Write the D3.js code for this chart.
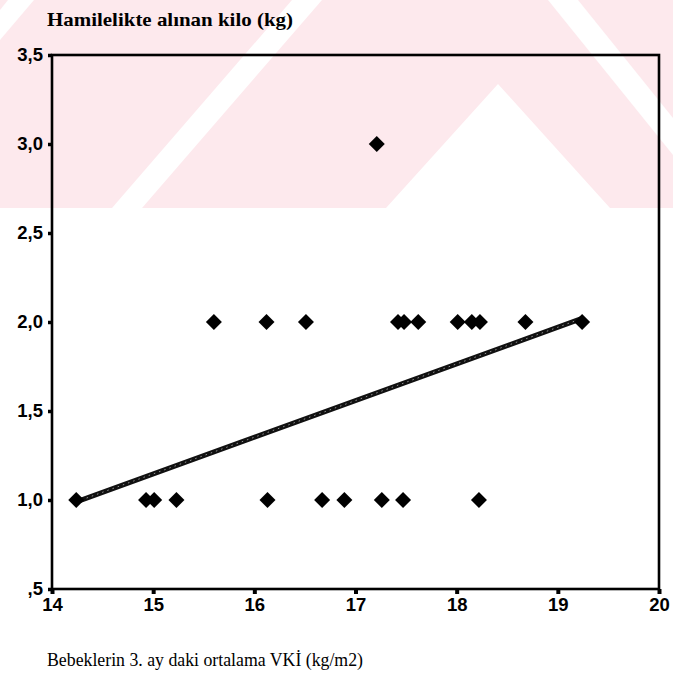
<!DOCTYPE html>
<html>
<head>
<meta charset="utf-8">
<script src="https://cdn.jsdelivr.net/npm/d3@7"></script>
<style>
  html, body { margin: 0; padding: 0; background: #fff; }
  svg { display: block; }
</style>
</head>
<body>
<div id="chart"></div>
<script>
// ---- data ----
const yTitle = "Hamilelikte alınan kilo (kg)";
const xTitle = "Bebeklerin 3. ay daki ortalama VKİ (kg/m2)";
const xTicks = [14, 15, 16, 17, 18, 19, 20];
const xTickLabels = ["14", "15", "16", "17", "18", "19", "20"];
const yTicks = [0.5, 1.0, 1.5, 2.0, 2.5, 3.0, 3.5];
const yTickLabels = [",5", "1,0", "1,5", "2,0", "2,5", "3,0", "3,5"];
const bmi = [14.24, 14.93, 15.01, 15.23, 16.13, 16.67, 16.89, 17.26, 17.47, 18.22,
             15.60, 16.12, 16.51, 17.42, 17.48, 17.62, 18.01, 18.15, 18.23, 18.68, 19.24,
             17.21];
const weightGain = [1, 1, 1, 1, 1, 1, 1, 1, 1, 1,
                    2, 2, 2, 2, 2, 2, 2, 2, 2, 2, 2,
                    3];
const fitX = [14.24, 19.24];
const fitY = [0.99, 2.02];

// ---- layout ----
const W = 673, H = 693;
const m = { left: 52, right: 14, top: 55, bottom: 104 };

const svg = d3.select("#chart").append("svg")
  .attr("width", W).attr("height", H);

// watermark background (scan artefact)
const wm = svg.append("g").attr("class", "watermark");
wm.append("rect").attr("x", 0).attr("y", 0).attr("width", W).attr("height", 208).attr("fill", "#fde9ed");
const whitePolys = [
  [[8,0],[34,0],[0,40],[0,10]],
  [[292,0],[322,0],[142,208],[112,208]],
  [[498,84],[610,208],[386,208]],
  [[548,0],[578,0],[673,118],[673,155]]
];
whitePolys.forEach(p => wm.append("polygon").attr("points", p.map(q => q.join(",")).join(" ")).attr("fill", "#fff"));

const x = d3.scaleLinear().domain([14, 20]).range([m.left, W - m.right]);
const y = d3.scaleLinear().domain([0.5, 3.5]).range([H - m.bottom, m.top]);

const tickFont = "'Liberation Sans', Arial, sans-serif";

// y axis
const yAxis = svg.append("g").attr("transform", `translate(${m.left},0)`)
  .call(d3.axisLeft(y).tickValues(yTicks).tickSize(4).tickPadding(5)
    .tickFormat((d, i) => yTickLabels[i]));
yAxis.select(".domain").remove();
yAxis.selectAll(".tick line").attr("stroke", "#000").attr("stroke-width", 3.5);
yAxis.selectAll(".tick text")
  .attr("font-family", tickFont)
  .attr("font-weight", "bold").attr("font-size", 18.5).attr("fill", "#000");

// x axis
const xAxis = svg.append("g").attr("transform", `translate(0,${H - m.bottom})`)
  .call(d3.axisBottom(x).tickValues(xTicks).tickSize(5).tickPadding(4)
    .tickFormat((d, i) => xTickLabels[i]));
xAxis.select(".domain").remove();
xAxis.selectAll(".tick line").attr("stroke", "#000").attr("stroke-width", 4);
xAxis.selectAll(".tick text")
  .attr("font-family", tickFont)
  .attr("font-weight", "bold").attr("font-size", 18.5).attr("fill", "#000");

// frame
svg.append("rect")
  .attr("x", x(14)).attr("y", y(3.5))
  .attr("width", x(20) - x(14)).attr("height", y(0.5) - y(3.5))
  .attr("fill", "none").attr("stroke", "#000").attr("stroke-width", 2.6);

// fit line
const fitData = fitX.map((v, i) => [v, fitY[i]]);
const line = d3.line().x(d => x(d[0])).y(d => y(d[1]));
svg.append("path").datum(fitData).attr("d", line)
  .attr("fill", "none").attr("stroke", "#111").attr("stroke-width", 5).attr("stroke-linecap", "round");
svg.append("path").datum(fitData).attr("d", line)
  .attr("fill", "none").attr("stroke", "#fff").attr("stroke-width", 1)
  .attr("stroke-dasharray", "1.5,4").attr("opacity", 0.55);

// points
const sym = d3.symbol().type(d3.symbolSquare).size(128);
svg.append("g").selectAll("path").data(bmi).join("path")
  .attr("d", sym)
  .attr("transform", (d, i) => `translate(${x(d)},${y(weightGain[i])}) rotate(45)`)
  .attr("fill", "#000");

// titles
svg.append("text").attr("x", 47).attr("y", 26)
  .attr("font-family", "'Liberation Serif', 'Times New Roman', serif")
  .attr("font-weight", "bold").attr("font-size", 19)
  .attr("textLength", 246).attr("lengthAdjust", "spacingAndGlyphs")
  .attr("fill", "#000").text(yTitle);

svg.append("text").attr("x", 47).attr("y", 666)
  .attr("font-family", "'Liberation Serif', 'Times New Roman', serif")
  .attr("font-size", 19)
  .attr("textLength", 316).attr("lengthAdjust", "spacingAndGlyphs")
  .attr("fill", "#000").text(xTitle);
</script>
</body>
</html>
